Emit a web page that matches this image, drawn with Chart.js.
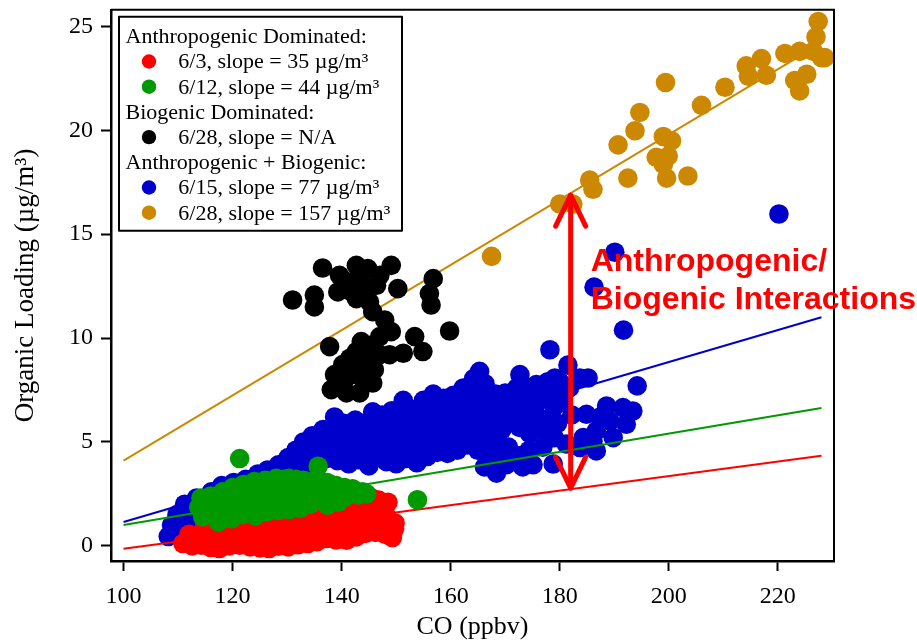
<!DOCTYPE html>
<html lang="en">
<head>
<meta charset="UTF-8">
<title>Organic Loading vs CO</title>
<script src="https://cdn.jsdelivr.net/npm/chart.js"></script>
<style>
    html, body { margin: 0; padding: 0; background: #fff; }
    #wrap { width: 917px; height: 644px; }
</style>
</head>
<body>
<div id="wrap"><canvas id="grafico" width="917" height="644"></canvas></div>
<script>
    // axis ticks
    const xTicks = [100, 120, 140, 160, 180, 200, 220];
    const yTicks = [0, 5, 10, 15, 20, 25];

    // per-series info: date, fitted slope (ug/m3 per ppmv CO), fit intercept at CO = 0
    const seriesDates = ['6/3', '6/12', '6/28', '6/15', '6/28'];
    const seriesSlopes = [35, 44, null, 77, 157];
    const fitIntercepts = [-3.64, -3.40, null, -6.55, -11.60];
    const seriesColors = ['#ff0000', '#009900', '#000000', '#0000cc', '#cc8800'];
    const fitRange = [100, 228];

    const legendGroups = [
        ['Anthropogenic Dominated:', [0, 1]],
        ['Biogenic Dominated:', [2]],
        ['Anthropogenic + Biogenic:', [3, 4]]
    ];
    const noteLines = ['Anthropogenic/', 'Biogenic Interactions'];
    const arrowCO = 182;

    // [CO ppbv, organic ug/m3]
    const jun03 = [
        [110.9,0.11],[112.6,0.0],[114.3,0.03],[116.0,-0.08],[117.6,-0.13],[119.4,0.0],[121.3,0.03],[123.2,-0.05],
        [125.0,-0.1],[126.7,-0.13],[128.4,-0.02],[130.2,-0.05],[132.0,0.05],[133.8,0.11],[135.5,0.2],[137.2,0.35],
        [139.0,0.28],[140.9,0.27],[142.7,0.43],[144.4,0.6],[146.2,0.65],[148.0,0.55],[149.4,0.62],
        [112.0,0.55],[113.8,0.5],[115.6,0.45],[117.5,0.4],[119.3,0.5],[121.2,0.5],[123.0,0.45],[124.9,0.4],
        [126.8,0.48],[128.7,0.45],[130.5,0.55],[132.3,0.6],[134.2,0.65],[136.0,0.75],[137.8,0.8],[139.6,0.75],
        [141.5,0.85],[143.3,0.95],[145.1,0.85],[147.0,1.0],[148.8,0.95],
        [114.8,0.9],[116.8,0.85],[118.7,0.95],[120.6,1.0],[122.5,0.95],[124.4,0.9],[126.3,1.0],[128.2,0.95],
        [130.0,1.05],[131.9,1.1],[133.7,1.15],[135.6,1.2],[137.4,1.3],[139.2,1.25],[141.0,1.3],[142.8,1.4],
        [144.6,1.35],[146.4,1.55],[148.2,1.45],[149.8,1.1],[149.3,0.4],[149.7,0.83],
        [126.0,1.3],[129.5,1.35],[133.0,1.5],[135.3,1.6],[137.2,1.75],[139.0,1.8],[140.9,1.95],[142.6,1.85],
        [144.4,2.0],[146.0,2.0],[147.8,2.05],
        [140.5,2.15],[142.3,2.1],[143.6,2.2],[145.5,2.3],[146.8,2.2],[148.5,2.1]
    ];

    const jun12 = [
        [113.8,1.85],[114.5,1.4],[115.2,2.05],[116.3,1.6],[117.4,1.15],[117.5,2.2],[118.6,1.75],[119.2,2.45],
        [119.8,1.3],[120.6,2.0],[121.0,2.65],[121.8,1.5],[122.6,2.3],[123.0,1.85],[123.6,2.85],[124.2,1.45],
        [124.8,2.4],[125.0,3.0],[125.6,1.95],[126.4,1.65],[126.8,2.6],[127.3,3.1],[127.9,2.1],[128.4,1.7],
        [128.9,2.75],[129.3,3.2],[129.9,2.3],[130.4,1.75],[131.0,2.9],[131.5,2.1],[132.0,3.05],[132.4,1.8],
        [132.9,2.5],[133.6,2.9],[134.2,2.0],[134.8,2.6],[135.4,3.0],[136.1,2.2],[136.8,2.75],[137.4,1.95],
        [138.0,2.95],[138.5,2.4],[139.4,2.1],[139.9,2.75],[140.6,2.35],[141.4,2.6],[142.2,2.5],[143.2,2.45],
        [114.2,2.3],[116.0,2.4],[118.2,2.6],[120.0,2.8],[122.0,2.95],[124.0,3.1],[126.0,3.15],[128.0,3.25],
        [130.3,3.25],[131.6,3.2],[133.0,3.15],[134.5,3.1],[136.0,3.05],[137.3,3.05],[139.0,2.9],[140.5,2.8],
        [142.0,2.75],[143.8,2.6],[144.6,2.5],[127.0,2.3],[130.8,2.5],[133.5,2.3],[136.0,2.5],[137.8,2.2],
        [121.3,4.2],[135.7,3.83],[153.9,2.22]
    ];

    const jun28bio = [
        [131.0,11.83],[135.0,12.07],[135.0,11.5],[136.5,13.37],[139.6,13.02],[142.7,13.5],[144.8,13.34],[149.1,13.5],
        [141.2,12.7],[143.3,12.86],[139.3,12.22],[141.8,12.22],[144.2,12.38],[146.4,12.54],[147.0,13.02],[142.7,11.9],
        [145.1,11.74],[145.7,11.27],[150.3,12.38],[140.6,12.54],[156.8,12.86],[156.1,12.14],[156.4,11.59],[159.8,10.34],
        [147.9,10.87],[149.1,10.31],[153.4,10.07],[154.9,9.35],[151.3,9.27],[137.8,9.59],[147.0,10.07],[145.7,9.67],
        [143.6,9.83],[142.7,9.35],[144.5,9.2],[147.0,9.2],[148.8,9.2],[141.5,9.03],[143.9,8.72],[140.2,8.72],
        [146.0,8.48],[138.7,8.24],[141.8,8.24],[143.9,8.08],[145.7,7.84],[138.1,7.52],[140.9,7.36],[143.3,7.36],
        [140.6,8.0],[139.3,7.76]
    ];

    const jun15 = [
        [108.2,0.45],[108.8,1.0],[109.8,1.5],[110.2,0.7],[111.2,2.0],[111.6,1.2],[112.5,0.65],[113.0,1.7],
        [113.4,2.3],[114.6,1.3],[115.0,2.1],[116.1,2.6],[116.8,1.8],[118.0,2.9],[118.6,2.3],[120.2,3.05],
        [120.6,2.5],[122.4,3.2],[122.9,2.6],[124.6,3.45],[125.0,2.8],[126.4,3.65],[127.0,3.1],[128.4,3.9],
        [128.9,3.3],[130.2,4.25],[130.4,3.6],[131.6,4.6],[131.9,3.9],[133.0,5.0],[133.3,4.3],[133.6,3.7],
        [134.6,5.3],[135.0,4.6],[135.3,3.9],[136.6,5.6],[136.8,4.9],[137.1,4.2],[138.7,6.2],[138.6,5.5],
        [138.9,4.8],[139.2,4.1],[140.4,5.9],[140.7,5.2],[141.0,4.5],[141.3,3.95],[142.5,6.05],[142.6,5.45],
        [142.8,4.8],[143.1,4.15],[144.1,5.9],[144.3,5.2],[144.5,4.55],[145.0,3.85],[145.7,6.45],[146.0,5.75],
        [146.2,5.1],[146.4,4.4],[147.4,6.3],[147.7,5.6],[147.9,4.9],[148.2,4.05],[149.2,6.5],[149.4,5.9],
        [149.5,5.3],[149.7,4.6],[150.0,3.95],[151.3,7.0],[151.2,6.3],[151.4,5.6],[151.6,4.9],[151.8,4.2],
        [153.3,6.4],[153.2,5.85],[153.4,5.2],[153.6,4.55],[153.8,4.0],[155.0,7.0],[155.1,6.3],[155.3,5.6],
        [155.5,4.95],[155.7,4.3],[156.8,7.3],[157.0,6.6],[157.1,5.9],[157.3,5.25],[157.5,4.5],[158.7,7.1],
        [158.8,6.45],[159.0,5.8],[159.2,5.1],[159.4,4.45],[160.5,7.25],[160.6,6.6],[160.8,5.95],[161.0,5.3],
        [161.2,4.6],[162.3,7.6],[162.4,6.9],[162.6,6.25],[162.8,5.55],[163.0,4.85],[164.2,8.05],[164.3,7.4],
        [164.5,6.7],[164.6,6.0],[164.8,5.3],[165.0,4.6],[165.3,8.4],[166.3,7.8],[166.4,7.1],[166.6,6.4],
        [166.7,5.7],[166.5,4.9],[166.2,3.8],[167.0,4.2],[168.2,7.3],[168.3,6.7],[168.5,6.0],[168.6,5.35],
        [168.4,4.5],[168.4,3.5],[169.0,4.0],[170.0,7.35],[170.2,6.6],[170.4,5.9],[170.6,4.75],[170.2,3.9],
        [171.5,4.3],[172.1,7.6],[172.7,8.24],[172.3,6.9],[172.5,6.2],[172.6,5.7],[172.8,4.35],[173.2,3.8],
        [174.0,7.3],[174.1,6.6],[174.3,5.9],[174.5,5.4],[174.4,4.6],[175.1,3.9],[175.7,7.76],[175.9,6.9],
        [176.0,6.2],[176.9,4.75],[177.3,5.5],[177.4,7.3],[178.2,9.44],[178.8,3.94],[179.0,5.2],[179.1,8.08],
        [179.0,6.7],[179.3,7.5],[179.6,5.9],[180.6,7.0],[181.5,8.7],[181.8,7.6],[181.2,4.9],[182.2,6.3],
        [183.7,4.73],[183.7,8.08],[184.3,5.21],[184.9,6.33],[185.2,8.08],[186.1,5.05],[186.7,5.53],[186.7,4.57],
        [186.3,12.45],[187.4,6.2],[188.6,6.73],[189.2,6.01],[189.8,5.21],[190.1,14.13],[191.6,6.65],[191.7,10.38],
        [192.2,5.85],[193.4,6.49],[194.2,7.7],[220.2,15.97],
        [141.8,5.5],[143.5,5.8],[145.2,4.8],[147.0,5.3],[148.8,5.0],[150.5,5.7],[150.6,4.5],[152.4,5.0],
        [152.5,6.6],[154.3,5.5],[154.4,4.3],[156.2,5.2],[156.0,6.3],[158.0,6.1],[158.0,4.8],[159.8,5.4],
        [159.9,6.9],[161.6,6.0],[161.9,5.0],[163.5,6.5],[163.6,5.2],[165.6,5.9],[165.8,7.4],[167.5,6.3],
        [167.5,5.0],[169.3,6.9],[169.4,5.6],[171.2,6.3],[171.3,7.3],[173.2,6.5],[173.4,7.7],[175.0,6.5],
        [176.5,7.6],[177.9,6.1],[177.8,7.9],[180.0,7.9],[137.8,5.3],[136.0,5.2],[134.0,4.7],[132.4,4.4],
        [129.6,3.9],[127.6,3.5],[125.6,3.3],[123.6,3.0],[121.5,2.8],[119.4,2.6],[117.3,2.4]
    ];

    const jun28mix = [
        [227.4,25.24],[227.0,24.5],[226.5,23.8],[228.0,23.5],[228.6,23.5],[224.0,23.8],[221.3,23.7],[225.3,22.7],
        [223.1,22.4],[224.0,21.9],[217.0,23.45],[214.2,23.1],[214.6,22.6],[217.9,22.65],[210.3,22.07],[206.0,21.2],
        [199.4,22.3],[194.7,20.86],[193.8,19.98],[190.7,19.3],[199.0,19.7],[200.5,19.5],[197.7,18.7],[199.9,18.76],
        [199.0,18.36],[199.6,17.7],[203.5,17.8],[192.5,17.7],[185.5,17.6],[186.1,17.16],[180.0,16.45],[182.4,16.45],
        [167.5,13.93]
    ];

    const seriesPoints = [jun03, jun12, jun28bio, jun15, jun28mix];
    // draw order, larger goes first
    const pointOrder = [8, 7, 6, 10, 5];

    function fitValue(i, co) {
        return fitIntercepts[i] + seriesSlopes[i] / 1000 * co;
    }

    function entryLabel(i) {
        const s = seriesSlopes[i];
        return seriesDates[i] + ', slope = ' + (s == null ? 'N/A' : s + ' \u00b5g/m\u00b3');
    }

    const serif = '"Liberation Serif", "Times New Roman", serif';

    const datasets = [];
    seriesPoints.forEach((pts, i) => {
        datasets.push({
            label: entryLabel(i),
            data: pts,
            backgroundColor: seriesColors[i],
            borderWidth: 0,
            pointRadius: 9.8,
            pointHoverRadius: 9.8,
            order: pointOrder[i]
        });
        if (seriesSlopes[i] != null) {
            datasets.push({
                label: seriesDates[i] + ' fit',
                data: fitRange.map(co => [co, fitValue(i, co)]),
                showLine: true,
                borderColor: seriesColors[i],
                borderWidth: 2,
                pointRadius: 0,
                order: 9
            });
        }
    });

    // frame, arrow, note and legend box
    const overlay = {
        id: 'overlay',
        afterDraw(chart) {
            const { ctx, chartArea: a, scales: { x, y } } = chart;
            ctx.save();

            ctx.strokeStyle = '#000';
            ctx.lineWidth = 2;
            ctx.beginPath();
            ctx.moveTo(a.left, a.top);
            ctx.lineTo(a.right, a.top);
            ctx.lineTo(a.right, a.bottom);
            ctx.stroke();

            const ax = x.getPixelForValue(arrowCO);
            const yTop = y.getPixelForValue(fitValue(4, arrowCO)) + 2;
            const yBot = y.getPixelForValue(fitValue(0, arrowCO)) - 1;
            ctx.strokeStyle = '#ff0000';
            ctx.lineWidth = 5;
            ctx.lineCap = 'round';
            ctx.lineJoin = 'round';
            ctx.beginPath();
            ctx.moveTo(ax, yTop);
            ctx.lineTo(ax, yBot);
            ctx.stroke();
            ctx.beginPath();
            ctx.moveTo(ax - 15, yTop + 31);
            ctx.lineTo(ax, yTop);
            ctx.lineTo(ax + 15, yTop + 31);
            ctx.stroke();
            ctx.beginPath();
            ctx.moveTo(ax - 15, yBot - 31);
            ctx.lineTo(ax, yBot);
            ctx.lineTo(ax + 15, yBot - 31);
            ctx.stroke();

            ctx.fillStyle = '#ff0000';
            ctx.font = 'bold 32px "Liberation Sans", Arial, sans-serif';
            ctx.textBaseline = 'alphabetic';
            ctx.textAlign = 'left';
            ctx.fillText(noteLines[0], ax + 20, a.top + 261);
            ctx.fillText(noteLines[1], ax + 20, a.top + 299);

            // legend
            const bx = a.left + 8, by = a.top + 7, bw = 283, bh = 214;
            ctx.fillStyle = '#fff';
            ctx.fillRect(bx, by, bw, bh);
            ctx.strokeStyle = '#000';
            ctx.lineWidth = 2;
            ctx.strokeRect(bx, by, bw, bh);
            ctx.font = '22px ' + serif;
            let row = 0;
            legendGroups.forEach(([head, idx]) => {
                const rows = [head].concat(idx);
                rows.forEach(r => {
                    const base = by + 26.3 + row * 25.2;
                    if (typeof r === 'string') {
                        ctx.fillStyle = '#000';
                        ctx.fillText(r, bx + 6.5, base);
                    } else {
                        ctx.fillStyle = seriesColors[r];
                        ctx.beginPath();
                        ctx.arc(bx + 30, base - 6.8, 7.2, 0, Math.PI * 2);
                        ctx.fill();
                        ctx.fillStyle = '#000';
                        ctx.fillText(entryLabel(r), bx + 59.3, base);
                    }
                    row++;
                });
            });
            ctx.restore();
        }
    };

    const tickFont = { family: serif, size: 24 };

    new Chart(document.getElementById('grafico'), {
        type: 'scatter',
        data: { datasets },
        options: {
            responsive: false,
            animation: false,
            events: [],
            layout: { padding: { left: 0, right: 83, top: 6, bottom: 0 } },
            plugins: { legend: { display: false }, tooltip: { enabled: false } },
            scales: {
                x: {
                    type: 'linear',
                    min: 97.7,
                    max: 230.3,
                    afterFit: s => { s.height = 83; s.paddingLeft = 0; s.paddingRight = 0; },
                    afterBuildTicks: s => { s.ticks = xTicks.map(v => ({ value: v })); },
                    ticks: { font: tickFont, color: '#000', padding: 11, maxRotation: 0 },
                    grid: { drawOnChartArea: false, tickLength: 10, tickWidth: 2, tickColor: '#000' },
                    border: { color: '#000', width: 2.5 },
                    title: { display: true, text: 'CO (ppbv)', color: '#000',
                             font: { family: serif, size: 26 }, padding: { top: 0, bottom: 1 } }
                },
                y: {
                    type: 'linear',
                    min: -0.73,
                    max: 25.8,
                    afterFit: s => { s.width = 111; s.paddingTop = 0; s.paddingBottom = 0; },
                    afterBuildTicks: s => { s.ticks = yTicks.map(v => ({ value: v })); },
                    ticks: { font: tickFont, color: '#000', padding: 8 },
                    grid: { drawOnChartArea: false, tickLength: 10, tickWidth: 2, tickColor: '#000' },
                    border: { color: '#000', width: 2.5 },
                    title: { display: true, text: 'Organic Loading (\u00b5g/m\u00b3)', color: '#000',
                             font: { family: serif, size: 27 }, padding: { top: 10, bottom: 0 } }
                }
            }
        },
        plugins: [overlay]
    });
</script>
</body>
</html>
